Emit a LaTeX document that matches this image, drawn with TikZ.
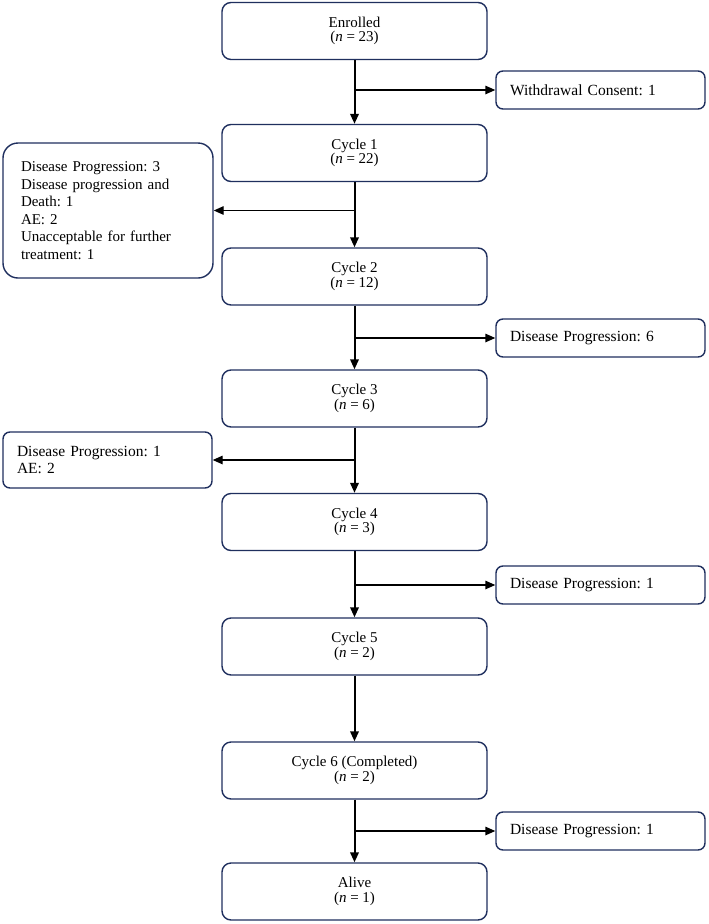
\documentclass[tikz,border=0pt]{standalone}
\usepackage{fontspec}
\setmainfont{Liberation Serif}
\usetikzlibrary{arrows.meta}
\definecolor{navy}{HTML}{1F2F5E}
\begin{document}
\frenchspacing
\begin{tikzpicture}[x=1pt,y=-1pt,
  box/.style={draw=navy, line width=1.4pt, fill=white},
  mainbox/.style={box, rounded corners=9pt, minimum width=265pt, minimum height=57pt,
     inner sep=0pt, align=center, font=\fontsize{15}{14.5}\selectfont},
  sidebox/.style={box, rounded corners=7pt, minimum width=209pt, minimum height=38pt,
     inner xsep=14pt, inner ysep=0pt, text width=181pt, align=left,
     font=\fontsize{15.5}{17}\selectfont},
  flow/.style={line width=2pt, -{Triangle[length=10pt,width=8.5pt]}},
  branch/.style={line width=1.4pt, -{Triangle[length=10pt,width=8.5pt]}}
]
\useasboundingbox (0,0) rectangle (709,924);
\fill[white] (0,0) rectangle (709,924);

% main column
\node[mainbox] (enr) at (354.5,31)    {Enrolled\\(\textit{n} = 23)};
\node[mainbox] (c1)  at (354.5,153)   {Cycle 1\\(\textit{n} = 22)};
\node[mainbox] (c2)  at (354.5,276.5) {Cycle 2\\(\textit{n} = 12)};
\node[mainbox] (c3)  at (354.5,398.5) {Cycle 3\\(\textit{n} = 6)};
\node[mainbox] (c4)  at (354.5,522)   {Cycle 4\\(\textit{n} = 3)};
\node[mainbox] (c5)  at (354.5,646.5) {Cycle 5\\(\textit{n} = 2)};
\node[mainbox] (c6)  at (354.5,770.5) {Cycle 6 (Completed)\\(\textit{n} = 2)};
\node[mainbox] (alive) at (354.5,891.5) {Alive\\(\textit{n} = 1)};

% side boxes (right)
\node[sidebox] (wd) at (600.5,90) {Withdrawal Consent: 1};
\node[sidebox] (dp6) at (600.5,338) {Disease Progression: 6};
\node[sidebox] (dp1a) at (600.5,585) {Disease Progression: 1};
\node[sidebox] (dp1b) at (600.5,831) {Disease Progression: 1};

% side boxes (left)
\node[box, rounded corners=15pt, minimum width=210pt, minimum height=135pt,
      inner xsep=18pt, inner ysep=0pt, text width=174pt, align=left,
      font=\fontsize{15}{17.5}\selectfont] (big) at (108,210.5)
  {Disease Progression: 3\\Disease progression and\\Death: 1\\AE: 2\\Unacceptable for further\\treatment: 1};
\node[sidebox, minimum width=209pt, minimum height=56pt] (small) at (107.5,460)
  {Disease Progression: 1\\AE: 2};

% branch points
\coordinate (b1) at (354,90);
\coordinate (b2) at (354,210.5);
\coordinate (b3) at (354,338);
\coordinate (b4) at (354,460);
\coordinate (b5) at (354,585);
\coordinate (b6) at (354,831);

% main flow
\draw[flow] (enr.south) -- (c1.north);
\draw[flow] (c1.south) -- (c2.north);
\draw[flow] (c2.south) -- (c3.north);
\draw[flow] (c3.south) -- (c4.north);
\draw[flow] (c4.south) -- (c5.north);
\draw[flow] (c5.south) -- (c6.north);
\draw[flow] (c6.south) -- (alive.north);

% branches
\draw[branch] (b1) -- (wd.west);
\draw[branch] (b2) -- (big.east);
\draw[branch] (b3) -- (dp6.west);
\draw[branch] (b4) -- (small.east);
\draw[branch] (b5) -- (dp1a.west);
\draw[branch] (b6) -- (dp1b.west);
\end{tikzpicture}
\end{document}
